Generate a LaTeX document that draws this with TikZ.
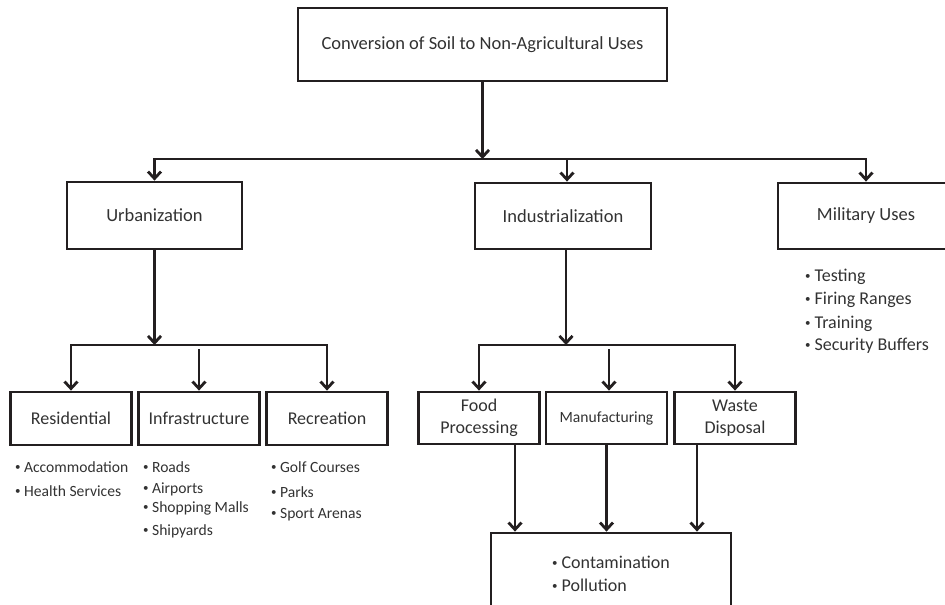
\documentclass[tikz,border=0pt]{standalone}
\usepackage{fontspec}
\setmainfont{Carlito}
\usetikzlibrary{arrows.meta}
\definecolor{linec}{RGB}{35,31,32}
\definecolor{textc}{RGB}{50,50,50}
\newcommand{\bdot}{{\fontsize{11}{11}\selectfont\raisebox{0.12em}{•}}\hspace{0.22em}}
\begin{document}
\begin{tikzpicture}[x=1pt,y=-1pt,
  box/.style={draw=linec, line width=2.8pt, rectangle, inner sep=0pt, text=textc, align=center},
  arr/.style={draw=linec, line width=2.8pt, -{Straight Barb[length=7pt,width=13pt]}},
  bul/.style={anchor=base west, inner sep=0pt, text=textc, font=\fontsize{15.6}{18}\selectfont},
  bulb/.style={bul, font=\fontsize{18}{21}\selectfont},
  bigf/.style={font=\fontsize{18.5}{22}\selectfont},
  midf/.style={font=\fontsize{18}{22}\selectfont}]
\useasboundingbox (0,0) rectangle (945,605);
\clip (0,0) rectangle (945,605);

% boxes
\node[box, bigf, minimum width=369pt, minimum height=73pt] (top) at (482.5,44.5) {Conversion of Soil to Non-Agricultural Uses};
\node[box, bigf, minimum width=175pt, minimum height=67pt] (urb) at (154.5,215.5) {Urbanization};
\node[box, bigf, minimum width=176pt, minimum height=66pt] (ind) at (563,216) {Industrialization};
\node[box, bigf, minimum width=176pt, minimum height=66pt] (mil) at (866,216) {Military Uses};

\node[box, midf, minimum width=121pt, minimum height=53pt] (res) at (71,418.5) {Residential};
\node[box, midf, minimum width=121pt, minimum height=53pt] (inf) at (199,418.5) {Infrastructure};
\node[box, midf, minimum width=121pt, minimum height=53pt] (rec) at (327,418.5) {Recreation};

\node[box, midf, minimum width=121pt, minimum height=52pt] (food) at (479,418) {Food\\Processing};
\node[box, font=\fontsize{15.6}{18}\selectfont, minimum width=121pt, minimum height=52pt] (manu) at (606.5,418) {Manufacturing};
\node[box, midf, minimum width=121pt, minimum height=52pt] (waste) at (735,418) {Waste\\Disposal};

\node[box, minimum width=240pt, minimum height=90pt] (cont) at (611,578) {};

% bullet lists
\node[bul] (r1) at (15,472) {\bdot Accommodation};
\node[bul] (r2) at (15,496) {\bdot Health Services};
\node[bul] (i1) at (143,472) {\bdot Roads};
\node[bul] (i2) at (143,493) {\bdot Airports};
\node[bul] (i3) at (143,512) {\bdot Shopping Malls};
\node[bul] (i4) at (143,535) {\bdot Shipyards};
\node[bul] (c1) at (271,472) {\bdot Golf Courses};
\node[bul] (c2) at (271,497) {\bdot Parks};
\node[bul] (c3) at (271,518) {\bdot Sport Arenas};
\node[bulb] (m1) at (805,281) {\bdot Testing};
\node[bulb] (m2) at (805,304) {\bdot Firing Ranges};
\node[bulb] (m3) at (805,328) {\bdot Training};
\node[bulb] (m4) at (805,350) {\bdot Security Buffers};
\node[bulb] (p1) at (552,568) {\bdot Contamination};
\node[bulb] (p2) at (552,591) {\bdot Pollution};

% connectors, level 1
\coordinate (bus) at (482.5,159);
\draw[arr] (top.south) -- (bus);
\draw[arr] (bus) -| (urb.north);
\draw[arr] (bus) -| (mil.north);
\draw[arr] ([xshift=4pt]ind.north |- bus) -- ([xshift=4pt]ind.north);

% urbanization branch
\coordinate (ub) at (154.5,345);
\draw[arr] (urb.south) -- (ub);
\draw[arr] (ub) -| (res.north);
\draw[arr] (ub) -| (rec.north);
\coordinate (ubm) at (199,349);
\draw[arr] (ubm) -- (inf.north);

% industrialization branch
\coordinate (ib) at (566,345);
\draw[arr] ([xshift=3pt]ind.south) -- (ib);
\draw[arr] (ib) -| (food.north);
\draw[arr] (ib) -| (waste.north);
\coordinate (ibm) at (609,349);
\draw[arr] (ibm) -- (ibm |- manu.north);

% to contamination
\draw[arr] ([xshift=36pt]food.south) -- ([xshift=36pt]food.south |- cont.north);
\draw[arr] (manu.south) -- (manu.south |- cont.north);
\draw[arr] ([xshift=-38pt]waste.south) -- ([xshift=-38pt]waste.south |- cont.north);
\end{tikzpicture}
\end{document}
